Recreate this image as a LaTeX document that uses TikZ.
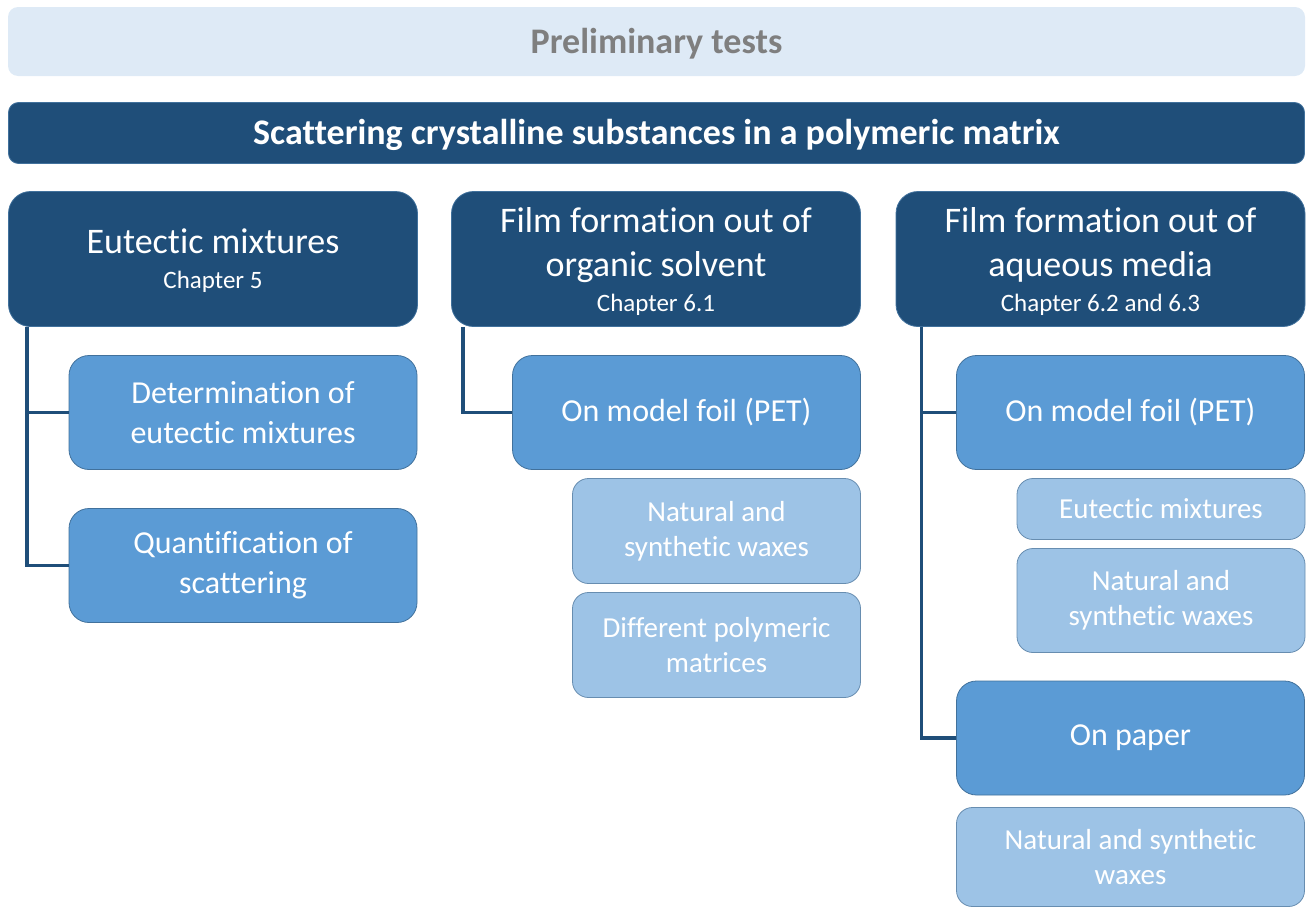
\documentclass[tikz,border=0pt]{standalone}
\usepackage{fontspec}
\setmainfont{Carlito}[Ligatures=CommonOff]
\usepackage{xcolor}
\usetikzlibrary{calc}
\definecolor{navyblue}{HTML}{1F4E79}
\definecolor{midblue}{HTML}{5B9BD5}
\definecolor{paleblue}{HTML}{9DC3E6}
\definecolor{mistblue}{HTML}{DEEAF6}
\definecolor{edgeblue}{HTML}{41719C}
\definecolor{greytext}{HTML}{7F7F7F}
\tikzstyle{prelimbar} = [draw=none, fill=mistblue, rounded corners=10pt, text=greytext,
font=\fontsize{36}{44}\bfseries\selectfont, text depth=2pt]
\tikzstyle{titlebar} = [draw=edgeblue, line width=0.8pt, fill=navyblue, rounded corners=10pt,
text=white, font=\fontsize{36}{44}\bfseries\selectfont, text depth=2pt]
\tikzstyle{topic} = [draw=edgeblue, line width=0.8pt, fill=navyblue, rounded corners=22pt,
text=white, align=center, minimum width=409pt, minimum height=135pt,
font=\fontsize{36}{44}\selectfont, text depth=-3pt]
\tikzstyle{branch} = [draw=edgeblue, line width=0.8pt, fill=midblue, rounded corners=20pt,
text=white, align=center, minimum width=348pt, minimum height=114pt,
font=\fontsize{32}{40}\selectfont]
\tikzstyle{leaf} = [draw=edgeblue!80, line width=0.8pt, fill=paleblue, rounded corners=16pt,
text=white, align=center, minimum width=288pt,
font=\fontsize{29}{35}\selectfont]
\tikzstyle{link} = [draw=navyblue, line width=3.5pt]
\newcommand{\chap}[1]{\\[-9pt]{\fontsize{25}{35}\selectfont #1}}

\begin{document}
\begin{tikzpicture}[x=1pt, y=-1pt]
        \useasboundingbox (0,0) rectangle (1309,910);
        % top bars
        \node [prelimbar, minimum width=1297pt, minimum height=69pt] (prelim) at (656.5,41.5) {Preliminary tests};
        \node [titlebar, minimum width=1296pt, minimum height=61pt] (title) at (656.5,133) {Scattering crystalline substances in a polymeric matrix};
        % column heads
        \node [topic] (eut) at (213,259) {Eutectic mixtures\chap{Chapter 5}};
        \node [topic] (org) at (656,259) {Film formation out of\\organic solvent\chap{Chapter 6.1}};
        \node [topic] (aqu) at (1100.5,259) {Film formation out of\\aqueous media\chap{Chapter 6.2 and 6.3}};
        % first column
        \node [branch] (det) at (243,412.5) {Determination of\\eutectic mixtures};
        \node [branch] (quant) at (243,565.5) {Quantification of\\scattering};
        % second column
        \node [branch] (orgfoil) at (686.5,412.5) {On model foil (PET)};
        \node [leaf, minimum height=105pt] (orgwax) at (716.5,531) {Natural and\\synthetic waxes};
        \node [leaf, minimum height=105pt] (orgpoly) at (716.5,645) {Different polymeric\\matrices};
        % third column
        \node [branch] (aqufoil) at (1130.5,412.5) {On model foil (PET)};
        \node [leaf, minimum height=61pt] (aqueut) at (1161,509) {Eutectic mixtures};
        \node [leaf, minimum height=104pt] (aquwax) at (1161,600.5) {Natural and\\synthetic waxes};
        \node [branch] (paper) at (1130.5,738) {On paper};
        \node [leaf, minimum width=348pt, minimum height=99pt] (paperwax) at (1130.5,857) {Natural and synthetic\\waxes};
        % connectors
        \draw [link] ([xshift=19pt]eut.south west) |- (det.west);
        \draw [link] ([xshift=19pt]eut.south west) |- (quant.west);
        \draw [link] ([xshift=12pt]org.south west) |- (orgfoil.west);
        \draw [link] ([xshift=26pt]aqu.south west) |- (aqufoil.west);
        \draw [link] ([xshift=26pt]aqu.south west) |- (paper.west);
\end{tikzpicture}
\end{document}
